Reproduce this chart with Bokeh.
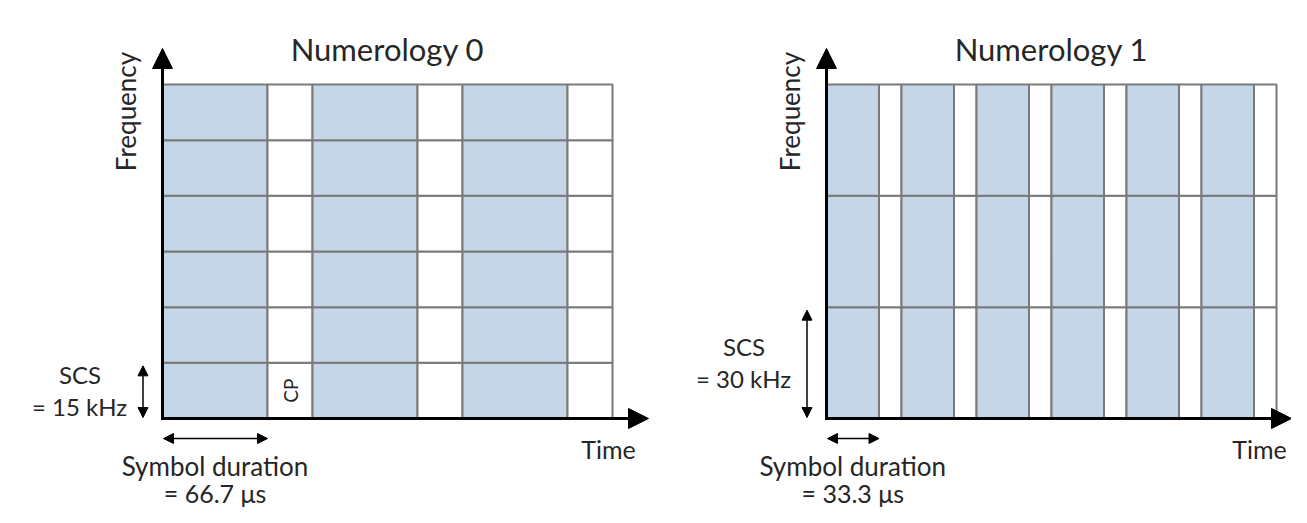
import math
from bokeh.plotting import figure
from bokeh.models import Range1d, Arrow, NormalHead
from bokeh.core.properties import value
from bokeh.embed import file_html
from bokeh.resources import INLINE

# ---------------- data ----------------
titles = ["Numerology 0", "Numerology 1"]
scs_khz = [15, 30]                      # sub-carrier spacing
symbol_duration_us = [66.7, 33.3]       # useful symbol duration
symbols_shown = [3, 6]                  # symbols drawn along time
subcarriers_shown = [6, 3]              # sub-carriers drawn along frequency
cp_share = [0.3, 0.3]                   # share of each slot drawn as cyclic prefix
scs_labels = ["= 15 kHz", "= 30 kHz"]
duration_labels = ["= 66.7 \u03bcs", "= 33.3 \u03bcs"]
axis_labels = ["Frequency", "Time"]
cp_label = "CP"

# ---------------- layout (pixel space of the picture) ----------------
W, H = 1291, 507
origin_x = [162, 826]
origin_row = 418          # pixel row of time axis
panel_w, panel_h = 450, 334
axis_tip_row = 48
time_axis_end = [648, W]
time_label_dx = [-4, -17]

BLUE = "#c4d6e7"
GRID = "#7a7a7a"
TEXT = "#262626"
FONT = "Lato"


def Y(row):
    return H - row


p = figure(width=W, height=H, output_backend="svg", toolbar_location=None,
           x_range=Range1d(0, W), y_range=Range1d(0, H),
           x_axis_type=None, y_axis_type=None, min_border=0)
p.outline_line_color = None
p.grid.visible = False
p.background_fill_color = "white"
p.border_fill_color = "white"


def label(x, row, s, size, angle=0.0):
    p.text(x=[x], y=[Y(row)], text=[s], text_font=value(FONT),
           text_font_size=f"{size}px", text_align="center",
           text_baseline="middle", angle=angle, text_color=TEXT)


def head(size):
    return NormalHead(size=size, fill_color="black", line_color="black", line_width=1)


for i in range(2):
    ox = origin_x[i]
    slot_us = symbol_duration_us[i] / (1 - cp_share[i])
    kx = panel_w / (symbols_shown[i] * slot_us)
    ky = panel_h / (subcarriers_shown[i] * scs_khz[i])
    sym_px = symbol_duration_us[i] * kx
    slot_px = slot_us * kx
    row_px = scs_khz[i] * ky

    left, right, bottom, top, fill = [], [], [], [], []
    for s in range(symbols_shown[i]):
        for f in range(subcarriers_shown[i]):
            b = Y(origin_row) + f * row_px
            t = b + row_px
            l0 = ox + s * slot_px
            left += [l0, l0 + sym_px]
            right += [l0 + sym_px, l0 + slot_px]
            bottom += [b, b]
            top += [t, t]
            fill += [BLUE, "white"]
    p.quad(left=left, right=right, bottom=bottom, top=top, fill_color=fill,
           line_color=GRID, line_width=2)

    # axes
    p.add_layout(Arrow(x_start=ox, y_start=Y(origin_row + 1.5), x_end=ox, y_end=Y(axis_tip_row),
                       line_width=3, line_color="black", end=head(20)))
    p.add_layout(Arrow(x_start=ox - 1.5, y_start=Y(origin_row), x_end=time_axis_end[i], y_end=Y(origin_row),
                       line_width=3, line_color="black", end=head(20)))

    # SCS double arrow
    ax = ox - 19.5
    p.add_layout(Arrow(x_start=ax, y_start=Y(origin_row) + 1, x_end=ax, y_end=Y(origin_row) + row_px - 3,
                       line_width=1.5, line_color="black", start=head(10), end=head(10)))
    # symbol duration double arrow
    p.add_layout(Arrow(x_start=ox + 1, y_start=Y(origin_row + 20), x_end=ox + sym_px, y_end=Y(origin_row + 20),
                       line_width=1.5, line_color="black", start=head(10), end=head(10)))

    row_center = origin_row - row_px / 2
    label(ox + panel_w / 2, 48, titles[i], 31)
    label(ox - 36.5, 111, axis_labels[0], 26, angle=math.pi / 2)
    label(ox - 82.5, row_center - 16, "SCS", 24)
    label(ox - 83, row_center + 16, scs_labels[i], 24)
    label(ox + sym_px / 2, 465, "Symbol duration", 26)
    label(ox + sym_px / 2, 492, duration_labels[i], 25)
    label(ox + panel_w + time_label_dx[i], 448, axis_labels[1], 25)
    if i == 0:
        label(ox + sym_px + (slot_px - sym_px) / 2, row_center, cp_label, 19, angle=math.pi / 2)

open("out.html", "w").write(file_html(p, INLINE))
